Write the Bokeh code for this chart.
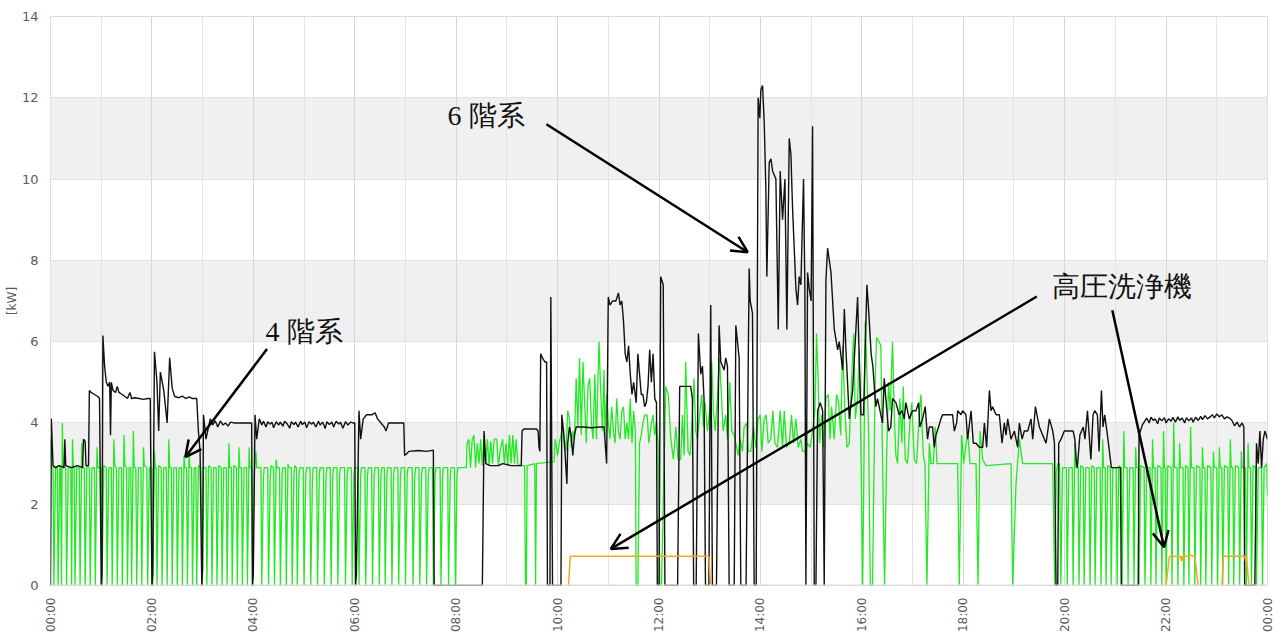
import math
from bokeh.plotting import figure
from bokeh.models import Range1d, FixedTicker, Label, Arrow, OpenHead, Grid, Span
from bokeh.embed import file_html
from bokeh.resources import INLINE

NAN = float("nan")

# ---- data: (minute of day, kW) ----
black_00_04 = [(0,0),(1,4.1),(3,2.95),(6,2.9),(10,2.95),(16,2.9),(17,3.6),(18,2.95),(25,2.9),(32,2.95),(38,2.9),(39,3.6),(41,3.55),(42,2.95),(45,2.95),(46,4.8),(48,4.75),(52,4.7),(56,4.65),(58,4.6),(60,0),(61,0.3),(62,6.15),(64,5.4),(66,5.0),(68,4.9),(70,5.0),(71,3.7),(72,5.0),(74,4.8),(77,4.75),(79,4.9),(81,4.75),(85,4.7),(88,4.65),(91,4.6),(94,4.75),(96,4.6),(100,4.62),(105,4.6),(110,4.58),(115,4.6),(118,4.6),(120,0),(121,0.3),(123,5.75),(126,5.0),(128,3.8),(130,5.25),(134,4.8),(138,4.0),(141,5.6),(144,4.85),(147,4.65),(152,4.62),(156,4.66),(160,4.6),(164,4.64),(168,4.6),(173,4.6),(175,3.8),(177,3.3),(179,0),(180,0.4),(181,4.2),(184,3.6),(189,4.1),(192,3.95),(195,4.05),(198,3.9),(201,4.05),(204,3.95),(207,4.0),(210,3.92),(213,4.02),(217,4.0),(225,4.0),(238,4.0),(239,0),(240,0.3)]
black_04_08 = [(242,4.2),(244,3.6),(247,4.1),(250,3.95),(252,4.04),(255,3.9),(257,4.03),(260,3.97),(262,4.02),(264,3.88),(267,4.03),(270,3.95),(272,4.02),(275,3.92),(277,4.04),(280,3.98),(283,3.87),(285,4.03),(288,3.96),(290,4.02),(293,3.9),(296,4.04),(298,3.96),(301,4.02),(303,3.88),(306,4.03),(309,3.97),(311,4.02),(314,3.9),(317,4.04),(319,3.95),(322,4.02),(325,3.86),(327,4.03),(330,3.96),(333,4.02),(335,3.9),(338,4.04),(341,3.97),(343,4.02),(346,3.87),(349,4.03),(352,3.95),(355,4.02),(358,4.0),(360,4.0),(361,0),(362,0.3),(365,4.3),(367,3.6),(370,4.1),(374,4.2),(380,4.2),(384,4.25),(387,4.1),(391,4.0),(395,3.9),(397,3.8),(400,4.0),(405,4.0),(412,4.0),(418,4.0),(419,3.2),(422,3.25),(424,3.3),(435,3.32),(445,3.3),(453,3.33),(454,0),(480,0)]
black_08_12 = [(511,0),(513,3.8),(515,3.0),(520,2.95),(530,2.95),(535,3.0),(545,2.95),(557,2.95),(558,3.8),(560,3.85),(575,3.85),(577,3.8),(578,3.4),(579,3.3),(580,5.7),(582,5.6),(585,5.5),(587,5.5),(588,0),(591,0),(592,7.1),(594,0),(604,0),(605,4.2),(607,3.8),(609,3.2),(611,2.5),(612,3.5),(614,3.9),(616,3.7),(618,3.2),(620,3.7),(622,3.9),(630,3.9),(640,3.88),(650,3.9),(655,3.9),(658,3.0),(660,7.1),(662,6.9),(665,7.0),(669,7.0),(672,7.2),(674,6.9),(676,7.0),(678,6.5),(680,5.7),(682,5.5),(684,5.9),(686,5.2),(688,4.7),(690,5.0),(693,4.5),(695,5.7),(697,5.2),(699,4.7),(701,4.7),(703,4.4),(705,4.5),(707,4.9),(709,5.8),(711,5.0),(713,5.7),(715,4.6),(717,4.5),(718,0),(720,0)]
black_12_16 = [(722,7.6),(725,7.4),(727,0),(742,0),(744.5,4.9),(757.5,4.9),(759.5,4.6),(761,0),(764,0),(766.6,6.2),(769.4,5.2),(771.4,5.4),(773.3,4.6),(775,0),(779,0),(781.2,6.9),(783.2,0),(788,0),(791.1,6.4),(793.1,5.5),(797,5.3),(799,5.6),(801,5.4),(803,0),(809,0),(810.9,6.4),(814.8,5.6),(816.8,0),(823,0),(826.7,7.8),(827.9,7.0),(830.6,6.7),(832.6,0),(835,0),(837.3,12.0),(839.3,11.5),(840.5,12.2),(842.5,12.3),(844.5,11.4),(846.4,9.8),(847.6,7.6),(850.4,10.4),(852.4,10.5),(854.4,10.2),(858.3,10.0),(861.1,6.3),(863.4,10.2),(866.2,9.0),(869,10.0),(871.3,6.3),(874.1,11.0),(876.1,10.6),(878,9.3),(880,8.3),(882,7.3),(884,6.9),(885.9,7.6),(887.9,7.4),(891,10.0),(892.6,7.3),(893.8,0),(895.8,7.7),(897.8,7.3),(900,7.0),(901.7,11.3),(903.7,0),(905.7,0),(907.7,4.3),(910.8,4.5),(913.6,4.3),(915.5,0),(917.5,7.5),(919.5,8.3),(923.5,7.7),(927.4,6.3),(931.4,5.8),(933.3,6.0),(937.3,5.3),(939.3,6.8),(941.2,5.8),(945.2,4.1),(949.1,4.8),(955,7.1),(957,5.5),(959,4.2)]
black_16_20 = [(962,4.2),(966,7.4),(968,6.8),(971,5.7),(973,5.4),(975.8,4.6),(976.6,4.4),(978.6,4.6),(982.5,4.2),(984.5,4.0),(986.5,5.1),(988.4,4.6),(991.6,3.8),(994.3,3.9),(996.3,4.6),(1000.3,4.5),(1004.2,4.2),(1007.4,4.3),(1010.2,4.1),(1012.1,4.5),(1016.1,4.1),(1020,4.3),(1024,4.3),(1027.2,4.5),(1028.7,3.9),(1031.9,4.1),(1035,4.4),(1037.8,3.6),(1039.8,3.9),(1043.7,3.9),(1045.7,3.4),(1047.7,3.7),(1050.8,3.9),(1053.6,4.1),(1055.6,4.2),(1067.4,4.2),(1069.4,3.8),(1072.2,4.0),(1073.4,4.3),(1077.3,4.2),(1079.3,4.3),(1083.2,4.2),(1085.2,3.6),(1089.2,4.3),(1091.9,3.5),(1095.1,3.5),(1099,3.4),(1103,3.4),(1105,4.0),(1107.7,3.4),(1110.9,4.8),(1112.9,4.3),(1114.8,4.4),(1118.8,4.2),(1122.7,4.2),(1125.9,3.5),(1128.6,4.0),(1130.6,3.7),(1132.6,4.1),(1136.5,3.6),(1140.5,3.8),(1144.4,3.4),(1146.4,4.0),(1149.6,3.6),(1152.3,3.8),(1156.3,3.8),(1160.2,4.1),(1162.2,3.6),(1165.4,4.4),(1168.1,4.1),(1170.1,3.9),(1174,3.7),(1178,3.5),(1180,3.8),(1181.9,4.1),(1185.9,3.8),(1187.9,3.5),(1189.8,0),(1191.8,0),(1193,3.5),(1195.7,3.6),(1199.6,3.8)]
black_20_24 = [(1210,3.8),(1212,3.6),(1214,3.0),(1215,2.9),(1218,3.7),(1222,3.9),(1224,3.6),(1227,4.3),(1231,3.1),(1233.6,4.2),(1235.6,4.3),(1238.7,4.2),(1240.7,3.3),(1243.5,4.8),(1245.4,3.9),(1247.4,4.2),(1250.6,3.7),(1255.3,2.9),(1266,2.9),(1267,0),(1287,0),(1288,3.7),(1292,3.95),(1295,4.05),(1297,4.12),(1300,4.0),(1302,4.14),(1305,4.06),(1307,4.1),(1310,3.98),(1312,4.12),(1315,4.05),(1318,4.13),(1320,4.0),(1323,4.1),(1326,4.04),(1328,4.14),(1331,4.02),(1334,4.15),(1336,4.06),(1339,4.12),(1342,4.0),(1344,4.13),(1347,4.05),(1350,4.12),(1352,4.02),(1355,4.14),(1358,4.06),(1361,4.16),(1363,4.08),(1366,4.18),(1369,4.1),(1372,4.15),(1375,4.2),(1377,4.12),(1380,4.22),(1383,4.15),(1386,4.2),(1389,4.1),(1392,4.15),(1395,4.12),(1398,4.06),(1401,3.93),(1404,4.02),(1407,3.9),(1410,4.0),(1412,3.9),(1413,0),(1425,0),(1427,3.5),(1429,3.0),(1431,3.8),(1433,2.9),(1435,3.6),(1437,3.8),(1440,3.6)]

green_00_04 = [(0,3.6),(1,2.9),(3,2.9),(4,0),(6,2.9),(8,2.9),(9,0),(11,2.95),(12,2.9),(13,0),(14,4.0),(15,2.9),(18,2.9),(19,0),(21,2.9),(24,2.9),(25,0),(26,3.6),(27,2.95),(28,2.9),(29,0),(31,2.9),(34,2.9),(35,0),(37,3.5),(38,2.9),(40,2.9),(41,0),(43,2.95),(46,2.9),(47,0),(49,2.9),(52,2.9),(53,0),(55,3.4),(56,2.9),(60,2.9),(61,0),(63,2.95),(66,2.9),(67,0),(69,2.9),(72,2.9),(73,0),(75,3.6),(76,2.95),(78,2.9),(79,0),(81,2.9),(84,2.9),(85,0),(87,3.7),(88,2.95),(90,2.9),(91,0),(93,2.9),(95,2.9),(96,0),(98,3.8),(99,2.9),(101,2.9),(102,0),(104,2.9),(107,2.9),(108,0),(110,3.4),(111,2.95),(114,2.9),(115,0),(117,2.9),(120,2.9),(121,0),(123,3.3),(124,2.9),(125,2.9),(126,0),(128,2.95),(131,2.9),(132,0),(134,2.9),(137,2.9),(138,0),(140,3.6),(141,2.9),(143,2.9),(144,0),(146,2.9),(149,2.9),(150,0),(152,2.9),(155,2.9),(156,0),(158,3.2),(159,2.9),(161,2.9),(162,0),(164,3.3),(165,2.9),(167,2.9),(168,0),(170,2.9),(172,2.9),(173,0),(175,2.95),(178,2.9),(179,0),(181,2.9),(184,2.9),(185,0),(187,2.95),(190,2.9),(191,0),(193,2.9),(196,2.9),(197,0),(199,2.95),(202,2.9),(203,0),(205,2.9),(208,2.9),(209,0),(211,3.5),(212,2.9),(214,2.9),(215,0),(217,2.95),(220,2.9),(221,0),(223,3.4),(224,2.9),(226,2.9),(227,0),(229,2.9),(232,2.9),(233,0),(235,3.4),(236,2.9),(238,2.9)]
green_04_08 = [(239,0),(241,2.7),(243,3.3),(244,2.9),(249,2.9),(250,0),(252,2.7),(253,2.9),(257,2.9),(258,0),(260,2.7),(261,2.95),(264,2.9),(265,0),(267,3.1),(268,2.9),(271,2.9),(272,0),(274,2.7),(275,2.9),(278,2.9),(279,0),(281,3.0),(282,2.9),(285,2.9),(286,0),(288,2.7),(289,2.95),(291,2.9),(292,0),(294,2.7),(295,2.9),(299,2.9),(300,0),(302,2.7),(303,2.9),(307,2.9),(308,0),(310,2.7),(311,2.9),(315,2.9),(316,0),(318,2.7),(319,2.9),(323,2.9),(324,0),(326,2.7),(327,2.9),(331,2.9),(332,0),(334,2.7),(335,2.9),(339,2.9),(340,0),(342,2.7),(343,2.9),(348,2.9),(349,0),(351,2.7),(352,2.9),(356,2.9),(357,0),(359,2.7),(360,2.9),(364,2.9),(365,0),(367,2.7),(368,2.9),(372,2.9),(373,0),(375,2.7),(376,2.9),(380,2.9),(381,0),(383,2.7),(384,2.9),(388,2.9),(389,0),(391,2.7),(392,2.9),(395,2.9),(396,0),(398,2.7),(399,2.9),(403,2.9),(404,0),(406,2.7),(407,2.9),(411,2.9),(412,0),(414,2.7),(415,2.9),(419,2.9),(420,0),(422,2.7),(423,2.9),(428,2.9),(429,0),(431,2.7),(432,2.9),(436,2.9),(437,0),(439,2.7),(440,2.9),(444,2.9),(445,0),(447,2.7),(448,2.9),(452,2.9),(453,0),(455,2.7),(456,2.9),(461,2.9),(462,0),(464,2.7),(465,2.9),(470,2.9),(471,0),(473,2.7),(474,2.9),(478,2.9),(479,0),(481,2.7),(482,2.9)]
green_08_12 = [(492,2.9),(493,3.5),(495,3.6),(497,2.9),(499,3.6),(501,3.7),(503,2.9),(505,3.5),(507,3.0),(509,3.6),(511,2.95),(513,3.7),(515,3.0),(517,3.6),(519,2.95),(521,3.55),(523,3.0),(525,3.6),(528,3.6),(530,2.95),(532,3.3),(535,3.6),(537,3.0),(539,3.5),(541,2.95),(543,3.7),(545,3.0),(547,3.7),(549,3.0),(551,3.6),(553,3.0),(555,2.95),(561,2.95),(562,0),(563,0),(564,2.95),(573,3.0),(574,0),(575,3.0),(596,3.05),(597,3.6),(598,3.5),(600,3.2),(602,3.5),(606,3.9),(608,3.6),(610,3.3),(612,4.3),(614,4.1),(616,3.4),(618,3.8),(620,3.6),(622,5.1),(624,3.9),(626,5.6),(628,3.7),(630,5.5),(632,4.5),(634,3.5),(636,4.9),(638,5.1),(640,4.0),(642,3.6),(644,5.2),(646,3.6),(649,6.0),(651,4.8),(653,3.8),(655,5.3),(656,3.7),(658,4.7),(660,4.0),(662,3.6),(664,4.4),(666,3.8),(668,3.5),(670,4.6),(672,3.8),(674,3.6),(676,4.3),(678,4.4),(680,3.6),(682,4.0),(684,3.6),(686,4.6),(688,3.5),(690,4.3),(692,3.8),(693,0),(695,0),(697,3.5),(699,3.7),(701,4.0),(703,4.2),(706,4.2),(708,3.5),(711,4.0),(713,4.2),(715,3.7),(717,4.0),(719,3.5),(721,0)]
green_12_16 = [(723,0),(728,4.9),(731,4.7),(734,3.6),(737,3.1),(740,3.9),(742.5,3.1),(745.7,3.1),(747.7,4.2),(749.7,3.2),(751.6,5.5),(754.4,3.3),(756.8,3.2),(759.5,4.2),(761.5,5.1),(763.5,3.8),(765.4,3.6),(768.6,4.3),(770.6,4.7),(772.6,3.9),(774.5,4.5),(777.3,3.8),(780.4,4.4),(782.4,5.5),(784.4,4.3),(786.4,3.8),(789.1,4.6),(791.5,5.6),(793.9,4.7),(795.8,3.8),(799,4.2),(801,3.6),(803.7,5.0),(806.1,3.8),(808.9,3.7),(812,3.4),(813.6,3.2),(816,3.6),(818.8,3.3),(820.7,3.9),(823.9,4.0),(825.5,3.3),(828.6,3.3),(831.8,3.9),(834.6,3.4),(837.3,4.1),(839.7,4.2),(841.7,3.3),(844.4,4.1),(846.8,4.2),(849.2,3.5),(852.3,3.6),(854.7,4.3),(857.1,3.5),(860.3,3.4),(863.4,4.3),(866.2,3.4),(868.2,4.3),(870.9,3.4),(874.1,3.5),(876.8,4.2),(879.2,3.5),(882,4.1),(884.7,3.4),(887.9,3.6),(889.9,3.3),(892.6,3.3),(895.8,3.5),(898.9,3.4),(901.7,3.8),(904.5,4.3),(906.4,6.2),(908.4,5.0),(910,3.5),(912.4,4.2),(914.7,3.4),(917.5,4.6),(920.3,4.7),(922.3,3.6),(924.2,4.4),(927.4,3.6),(930.1,4.7),(932.5,4.5),(935,3.7),(937.3,5.9),(940,4.3),(942.4,3.4),(945.2,3.5),(947.1,4.7),(950.3,6.2),(952.3,4.1),(955,4.6),(957,5.8),(959,3.2),(961,0)]
green_16_20 = [(962.5,3.0),(964,6.5),(966,5.2),(968,3.8),(970,0),(972.6,0),(975.8,5.0),(977.4,6.1),(980.5,6.0),(982.5,5.9),(985.3,2.0),(986.9,0),(989.2,3.0),(991.6,5.0),(993.6,4.3),(996.3,6.0),(998.7,4.0),(1000.3,3.2),(1002.3,3.0),(1005,4.6),(1007.4,3.5),(1009,4.9),(1011.4,3.1),(1014.1,3.0),(1016.9,4.0),(1019.2,4.5),(1022,3.1),(1024.8,3.0),(1027.9,4.2),(1029.9,4.7),(1032.7,3.2),(1034.7,3.0),(1037,0),(1039.8,3.5),(1041.8,3.0),(1044.5,3.0),(1046.9,3.9),(1048.9,3.0),(1057.6,3.0),(1073.4,3.0),(1075.3,0),(1078.1,3.7),(1080.5,3.0),(1085.2,3.8),(1088,3.0),(1095.1,3.0),(1097.5,0),(1099.8,3.8),(1103,3.1),(1106.9,2.95),(1136.5,3.0),(1138.5,0),(1142.4,2.5),(1146.4,3.6),(1150.3,3.0),(1185.8,3.0),(1188.2,0),(1190,2.8),(1192,3.0),(1194,3.0),(1195.5,0),(1197.5,2.9)]
green_20_24 = [(1202,2.9),(1203,0),(1205,2.9),(1209,2.9),(1210,0),(1212,3.5),(1213,2.9),(1216,2.9),(1217,0),(1219,2.95),(1222,2.9),(1223,0),(1225,2.9),(1229,2.9),(1230,0),(1232,2.95),(1235,2.9),(1236,0),(1238,2.9),(1242,2.9),(1243,0),(1245,3.6),(1246,2.9),(1248,2.9),(1249,0),(1251,2.95),(1254,2.9),(1255,0),(1257,2.9),(1261,2.9),(1262,0),(1264,2.95),(1267,2.9),(1268,0),(1270,3.8),(1271,2.9),(1274,2.9),(1275,0),(1277,2.9),(1281,2.9),(1282,0),(1284,3.4),(1285,2.9),(1287,2.9),(1288,0),(1290,2.95),(1294,2.9),(1295,0),(1297,2.9),(1301,2.9),(1302,0),(1304,3.6),(1305,2.9),(1307,2.9),(1308,0),(1310,2.95),(1314,2.9),(1315,0),(1317,3.8),(1318,2.9),(1319,2.9),(1320,0),(1322,2.95),(1326,2.9),(1327,0),(1329,4.0),(1330,2.9),(1333,2.9),(1334,0),(1336,3.5),(1337,2.9),(1340,2.9),(1341,0),(1343,2.95),(1346,2.9),(1347,0),(1349,3.9),(1350,2.9),(1353,2.9),(1354,0),(1356,2.95),(1360,2.9),(1361,0),(1363,3.4),(1364,2.9),(1366,2.9),(1367,0),(1369,2.95),(1373,2.9),(1374,0),(1376,3.3),(1377,2.9),(1380,2.9),(1381,0),(1383,3.4),(1384,2.9),(1386,2.9),(1387,0),(1389,2.95),(1393,2.9),(1394,0),(1396,3.6),(1397,2.9),(1399,2.9),(1400,0),(1402,2.95),(1406,2.9),(1407,0),(1409,3.3),(1410,2.9),(1414,2.9),(1415,0),(1417,3.5),(1418,2.9),(1420,2.9),(1421,0),(1423,2.95),(1426,2.9),(1427,0),(1429,2.9),(1433,2.9),(1434,0),(1436,2.9),(1439,3.0),(1440,2.2)]

orange_pts = [(613,0),(615,0.72),(779,0.72),(781,0),(NAN,NAN),(1320,0),(1324,0.72),(1337,0.72),(1338,0.6),(1339,0.72),(1340,0.6),(1341,0.72),(1346,0.72),(1348,0.76),(1352,0.72),(1354,0.72),(1358,0),(NAN,NAN),(1386,0),(1388,0.72),(1413,0.72),(1414,0.6),(1415,0.72),(1418,0)]

x_tick_hours = list(range(0, 25, 2))
x_tick_labels = ["00:00", "02:00", "04:00", "06:00", "08:00", "10:00", "12:00",
                 "14:00", "16:00", "18:00", "20:00", "22:00", "00:00"]
y_ticks = [0, 2, 4, 6, 8, 10, 12, 14]
band_bottom = [2, 6, 10]
band_top = [4, 8, 12]

def unzip(*parts):
    xs, ys = [], []
    for part in parts:
        for t, v in part:
            xs.append(t / 60.0)
            ys.append(v)
    return xs, ys

bx, by = unzip(black_00_04, black_04_08, black_08_12, black_12_16, black_16_20, black_20_24)
gx, gy = unzip(green_00_04, green_04_08, green_08_12, green_12_16, green_16_20, green_20_24)
ox, oy = unzip(orange_pts)

p = figure(width=1280, height=636, x_range=Range1d(0, 24), y_range=Range1d(0, 14),
           output_backend="svg", toolbar_location=None,
           min_border_left=50, min_border_right=13, min_border_top=16, min_border_bottom=51)
p.background_fill_color = "white"
p.border_fill_color = "white"
p.outline_line_color = "#dcdcdc"

# bands
p.quad(left=0, right=24, bottom=band_bottom, top=band_top, fill_color="#f0f0f0",
       line_color=None, level="image")

# grids
p.ygrid.ticker = FixedTicker(ticks=y_ticks)
p.ygrid.grid_line_color = "#e2e2e2"
p.xgrid.ticker = FixedTicker(ticks=list(range(0, 25)))
p.xgrid.grid_line_color = "#e3e3e3"
p.add_layout(Grid(dimension=0, ticker=FixedTicker(ticks=x_tick_hours), grid_line_color="#cfdccf"))

# axes
p.xaxis.ticker = FixedTicker(ticks=x_tick_hours)
p.xaxis.major_label_overrides = {h: lab for h, lab in zip(x_tick_hours, x_tick_labels)}
p.xaxis.major_label_orientation = math.pi / 2
p.yaxis.ticker = FixedTicker(ticks=y_ticks)
p.yaxis.axis_label = "[kW]"
for ax in (p.xaxis[0], p.yaxis[0]):
    ax.axis_line_color = None
    ax.major_tick_line_color = None
    ax.minor_tick_line_color = None
    ax.major_tick_out = 0
    ax.major_tick_in = 0
    ax.minor_tick_out = 0
    ax.minor_tick_in = 0
    ax.major_label_text_color = "#5a5a5a"
    ax.major_label_text_font = "DejaVu Sans"
p.xaxis.major_label_text_font_size = "12px"
p.xaxis.major_label_standoff = 12
p.yaxis.major_label_text_font_size = "13px"
p.yaxis.major_label_standoff = 12
p.yaxis.axis_label_text_font_size = "12px"
p.yaxis.axis_label_text_font_style = "normal"
p.yaxis.axis_label_text_color = "#5a5a5a"
p.yaxis.axis_label_text_font = "DejaVu Sans"
p.yaxis.axis_label_standoff = 0

# series
p.line(gx, gy, line_color="#22ea22", line_width=1.3)
p.line(bx, by, line_color="#111111", line_width=1.4)
p.line(ox, oy, line_color="#f5a623", line_width=1.5)

# frame bottom edge drawn over the series (zero values sit under the border)
p.add_layout(Span(location=0, dimension="width", line_color="#dcdcdc", line_width=2, level="overlay"))

# annotations
arrows = [
    (9.78, 11.35, 13.75, 8.2),
    (4.27, 5.82, 2.66, 3.16),
    (19.45, 7.11, 11.05, 0.90),
    (20.94, 6.77, 21.96, 0.94),
]
for xs, ys, xe, ye in arrows:
    p.add_layout(Arrow(end=OpenHead(size=16, line_width=2.5, line_color="black"),
                       x_start=xs, y_start=ys, x_end=xe, y_end=ye,
                       line_width=2.5, line_color="black"))

labels = [(7.83, 11.56, "6 階系"), (4.24, 6.25, "4 階系"), (19.76, 7.36, "高圧洗浄機")]
for lx, ly, txt in labels:
    p.add_layout(Label(x=lx, y=ly, text=txt, text_font="Liberation Serif",
                       text_font_size="28px", text_baseline="middle", text_color="#111111"))

open("out.html", "w").write(file_html(p, INLINE))
